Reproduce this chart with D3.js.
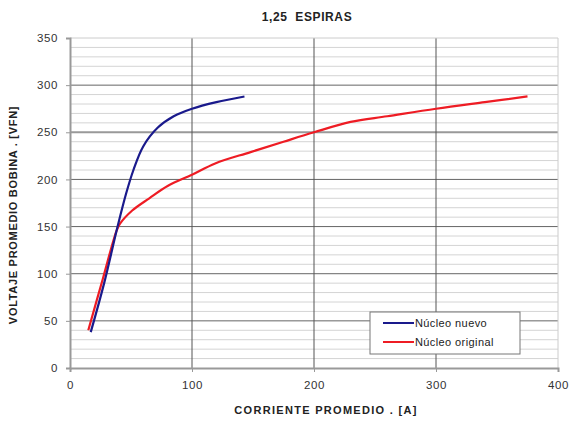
<!DOCTYPE html>
<html>
<head>
<meta charset="utf-8">
<script src="https://cdn.jsdelivr.net/npm/d3@7"></script>
<style>
  body { margin: 0; background: #fff; }
  text { font-family: "Liberation Sans", Arial, sans-serif; }
</style>
</head>
<body>
<svg id="chart" width="570" height="424"></svg>
<script>
// data
var nuevoX = [17, 28, 39, 46, 52, 60, 72, 85, 100, 120, 143];
var nuevoY = [38, 90, 150, 185, 210, 235, 255, 267, 275, 282, 288];
var origX = [15, 27, 38, 41, 51, 65, 80, 100, 119, 148, 175, 200, 230, 260, 300, 340, 375];
var origY = [40, 95, 145, 153, 167, 180, 193, 205, 217, 229, 240, 250, 261, 267, 275, 282, 288];
var xTicks = [0, 100, 200, 300, 400];
var yTicks = [0, 50, 100, 150, 200, 250, 300, 350];

var svg = d3.select("#chart"),
    margin = {top: 38, right: 12, bottom: 56, left: 70},
    width = 558 - margin.left,
    height = 368 - margin.top;

var x = d3.scaleLinear().domain([0, 400]).range([0, width]),
    y = d3.scaleLinear().domain([0, 350]).range([height, 0]);

var g = svg.append("g")
    .attr("transform", "translate(" + margin.left + "," + margin.top + ")");

// minor horizontal grid every 10
g.selectAll(".minor")
    .data(d3.range(10, 350, 10).filter(function(d) { return d % 50 != 0; }))
    .enter().append("line")
    .attr("x1", 0).attr("x2", width)
    .attr("y1", function(d) { return y(d); })
    .attr("y2", function(d) { return y(d); })
    .style("stroke", "#d4d4d4").style("stroke-width", 1);

// major horizontal grid
g.selectAll(".major")
    .data(yTicks.slice(1, -1))
    .enter().append("line")
    .attr("x1", 0).attr("x2", width)
    .attr("y1", function(d) { return y(d); })
    .attr("y2", function(d) { return y(d); })
    .style("stroke", function(d) { return d == 250 ? "#999" : "#666"; })
    .style("stroke-width", function(d) { return d == 250 ? 2 : 1; });

// vertical grid
g.selectAll(".vgrid")
    .data(xTicks.slice(1, -1))
    .enter().append("line")
    .attr("y1", 0).attr("y2", height)
    .attr("x1", function(d) { return x(d); })
    .attr("x2", function(d) { return x(d); })
    .style("stroke", "#555").style("stroke-width", 1);

// plot frame (top/right light)
g.append("line").attr("x1", 0).attr("x2", width).attr("y1", 0).attr("y2", 0)
    .style("stroke", "#ccc");
g.append("line").attr("x1", width).attr("x2", width).attr("y1", 0).attr("y2", height)
    .style("stroke", "#ccc");

// axes
var xAxis = g.append("g")
    .attr("transform", "translate(0," + height + ")")
    .call(d3.axisBottom(x).tickValues(xTicks).tickSize(4).tickPadding(9));
var yAxis = g.append("g")
    .call(d3.axisLeft(y).tickValues(yTicks).tickSize(4).tickPadding(8));

[xAxis, yAxis].forEach(function(a) {
    a.select(".domain").style("stroke", "#999").style("stroke-width", 2);
    a.selectAll(".tick line").style("stroke", "#999");
    a.selectAll(".tick text").style("font-size", "11.5px").style("fill", "#333")
        .style("letter-spacing", "0.6px")
        .style("font-family", "'Liberation Sans', Arial, sans-serif");
});

var line = d3.line()
    .x(function(d) { return x(d[0]); })
    .y(function(d) { return y(d[1]); })
    .curve(d3.curveCatmullRom.alpha(0.5));

var nuevo = d3.zip(nuevoX, nuevoY),
    orig = d3.zip(origX, origY);

g.append("path").datum(orig)
    .attr("d", line)
    .style("fill", "none").style("stroke", "#ee1c24").style("stroke-width", 2.2);

g.append("path").datum(nuevo)
    .attr("d", line)
    .style("fill", "none").style("stroke", "#1a1a8c").style("stroke-width", 2.2);

// legend
var legend = svg.append("g").attr("transform", "translate(370,312)");
legend.append("rect")
    .attr("width", 150).attr("height", 42)
    .style("fill", "#fff").style("stroke", "#777");
var items = [["Núcleo nuevo", "#1a1a8c"], ["Núcleo original", "#ee1c24"]];
items.forEach(function(it, i) {
    var yy = 11 + i * 19;
    legend.append("line")
        .attr("x1", 13).attr("x2", 44).attr("y1", yy).attr("y2", yy)
        .style("stroke", it[1]).style("stroke-width", 2);
    legend.append("text")
        .attr("x", 45).attr("y", yy).attr("dy", "0.35em")
        .style("font-size", "11px").style("fill", "#222")
        .style("letter-spacing", "0.4px")
        .text(it[0]);
});

// titles
svg.append("text")
    .attr("x", 307).attr("y", 21)
    .style("text-anchor", "middle").style("font-weight", "bold").style("font-size", "12px")
    .style("white-space", "pre").style("letter-spacing", "0.6px")
    .style("fill", "#222")
    .text("1,25  ESPIRAS");

svg.append("text")
    .attr("x", 326).attr("y", 414)
    .style("text-anchor", "middle").style("font-weight", "bold").style("font-size", "11px")
    .style("letter-spacing", "1.3px")
    .style("fill", "#222")
    .text("CORRIENTE PROMEDIO . [A]");

svg.append("text")
    .attr("transform", "translate(17,215) rotate(-90)")
    .style("text-anchor", "middle").style("font-weight", "bold").style("font-size", "11px")
    .style("letter-spacing", "0.7px")
    .style("fill", "#222")
    .text("VOLTAJE PROMEDIO BOBINA . [VFN]");
</script>
</body>
</html>
